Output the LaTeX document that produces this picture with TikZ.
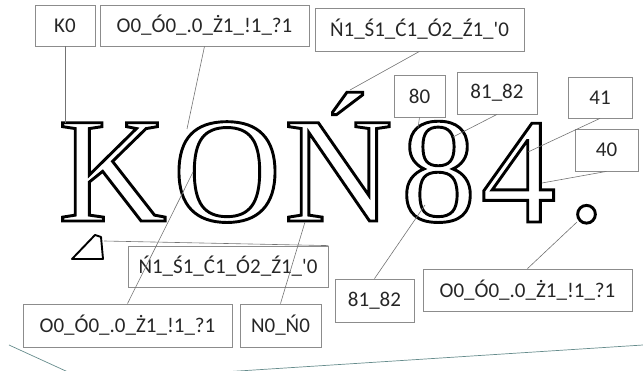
\documentclass[tikz,border=0pt]{standalone}
\usepackage{fontspec}
\setmainfont{Liberation Serif}
\newfontfamily\boxfont{Carlito}
\newcommand\outl[1]{\special{pdf:literal direct 1 Tr 2.9 w}#1\special{pdf:literal direct 0 Tr}}
\begin{document}
\begin{tikzpicture}[x=1pt,y=-1pt,
  lbl/.style={draw=black!45,line width=0.8pt,inner sep=0pt,font=\boxfont\fontsize{21}{24}\selectfont,text=black!85},
  lead/.style={draw=black!55,line width=0.6pt},
  glyph/.style={inner sep=0pt,anchor=base,font=\fontsize{150}{160}\selectfont},
  edge/.style={draw=teal!50!black!60,line width=0.7pt}]
\useasboundingbox (0,0) rectangle (643,371);
% big glyphs
\node[glyph] (gK) at (112.5,221) {\outl{K}};
\node[glyph] (gO) at (227,221) {\outl{O}};
\node[glyph] (gN) at (338.5,221) {\outl{Ń}};
\node[glyph] (g8) at (438.5,221) {\outl{8}};
\node[glyph] (g4) at (518.5,222) {\outl{4}};
\node[glyph] (gd) at (586.5,221) {\outl{.}};
% stray accent
\draw[line width=1.9pt,line join=round] (95,235) -- (101,237) -- (103,259) -- (72,259) -- cycle;
% label boxes
\node[lbl,minimum width=60,minimum height=41] (bK) at (65,25.5) {K0};
\node[lbl,minimum width=209,minimum height=41] (bOt) at (204.5,25.5) {O0\_Ó0\_.0\_Ż1\_!1\_?1};
\node[lbl,minimum width=209,minimum height=43] (bAt) at (419.5,29.5) {Ń1\_Ś1\_Ć1\_Ó2\_Ź1\_'0};
\node[lbl,minimum width=51,minimum height=42] (b80) at (419.5,96) {80};
\node[lbl,minimum width=80,minimum height=42] (b81t) at (497,93) {81\_82};
\node[lbl,minimum width=64,minimum height=41] (b41) at (600,97.5) {41};
\node[lbl,minimum width=63,minimum height=42] (b40) at (606.5,150) {40};
\node[lbl,minimum width=200,minimum height=41] (bAb) at (228,266.5) {Ń1\_Ś1\_Ć1\_Ó2\_Ź1\_'0};
\node[lbl,minimum width=209,minimum height=43] (bObl) at (127.5,325.5) {O0\_Ó0\_.0\_Ż1\_!1\_?1};
\node[lbl,minimum width=81,minimum height=43] (bN) at (280.5,325.5) {N0\_Ń0};
\node[lbl,minimum width=79,minimum height=43] (b81b) at (374.5,300.5) {81\_82};
\node[lbl,minimum width=209,minimum height=42] (bObr) at (527.5,290) {O0\_Ó0\_.0\_Ż1\_!1\_?1};
% leader end points
\coordinate (eK) at (65,123);
\coordinate (eOt) at (187,129);
\coordinate (eAt) at (350,90);
\coordinate (e80) at (418,128);
\coordinate (e81t) at (453,137);
\coordinate (e41) at (528,152);
\coordinate (e40) at (542,183);
\coordinate (eAb) at (104,241);
\coordinate (eObl) at (193,172);
\coordinate (eN) at (305,222);
\coordinate (e81b) at (425,205);
\coordinate (eObr) at (577,222);
\draw[lead] (bK.south) -- (eK);
\draw[lead] (bOt.south) -- (eOt);
\draw[lead] (bAt.south) -- (eAt);
\draw[lead] (b80.south) -- (e80);
\draw[lead] (b81t.south) -- (e81t);
\draw[lead] (b41.south) -- (e41);
\draw[lead] (b40.south) -- (e40);
\draw[lead] (bAb.north east) -- (eAb);
\draw[lead] (bObl.north) -- (eObl);
\draw[lead] (bN.north) -- (eN);
\draw[lead] (b81b.north) -- (e81b);
\draw[lead] (bObr.north) -- (eObr);
% bottom edges
\coordinate (l1) at (9,345);
\coordinate (l2) at (68,372);
\coordinate (r1) at (223,372);
\coordinate (r2) at (643,345);
\draw[edge] (l1) -- (l2);
\draw[edge] (r1) -- (r2);
\end{tikzpicture}
\end{document}
